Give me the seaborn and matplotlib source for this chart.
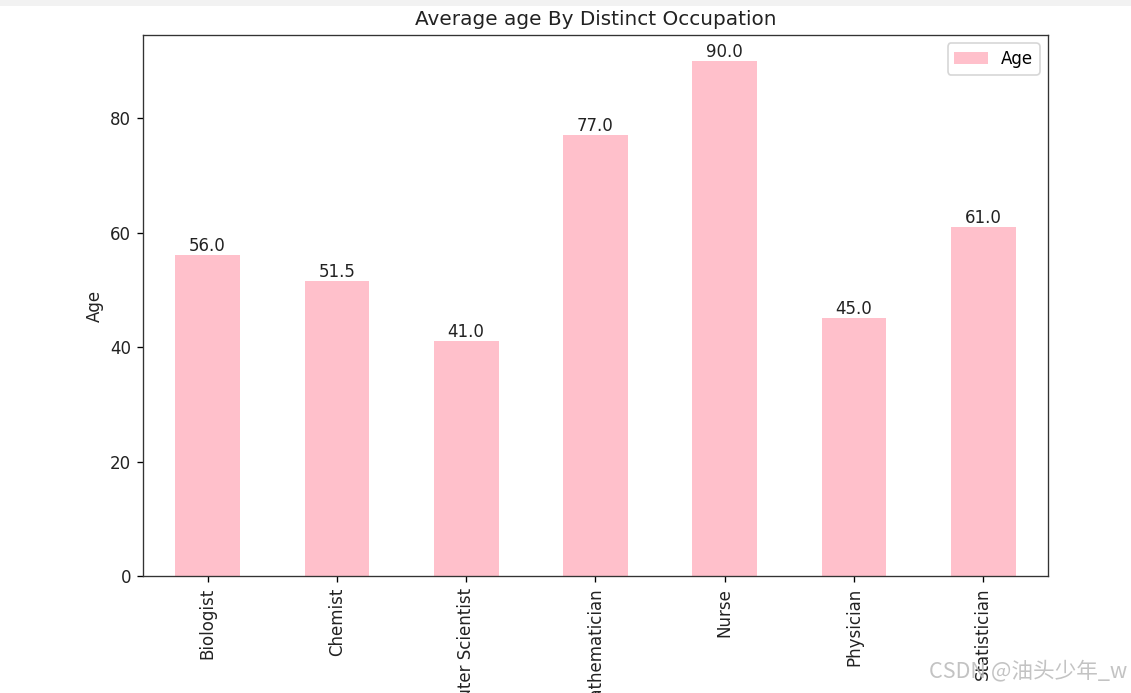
import matplotlib
matplotlib.use('Agg')
import matplotlib.pyplot as plt
import seaborn as sns
from matplotlib.patches import Rectangle

# data
occupations = ['Biologist', 'Chemist', 'Computer Scientist', 'Mathematician',
               'Nurse', 'Physician', 'Statistician']
ages = [56.0, 51.5, 41.0, 77.0, 90.0, 45.0, 61.0]

# the screenshot is a bit enlarged, so render at 120 dpi
DPI = 120
fig = plt.figure(figsize=(1131 / DPI, 693 / DPI), dpi=DPI)
ax = fig.add_axes([0.1264, 0.1688, 0.8002, 0.7807])

sns.barplot(x=occupations, y=ages, color='pink', saturation=1, width=0.5,
            linewidth=0, label='Age', ax=ax)
ax.bar_label(ax.containers[0], fmt='%.1f', fontsize=10, color='#222222')

ax.set_xlim(-0.5, len(occupations) - 0.5)
ax.set_ylim(0, max(ages) * 1.05)
ax.set_title('Average age By Distinct Occupation', fontsize=12, color='#222222')
ax.set_ylabel('Age', fontsize=10, color='#222222')
ax.set_xlabel('')
ax.tick_params(axis='x', labelrotation=90, labelsize=10, labelcolor='#222222')
ax.tick_params(axis='y', labelsize=10, labelcolor='#222222')
for s in ax.spines.values():
    s.set_edgecolor('#333333')
ax.legend(loc='upper right', fontsize=10)

# light strip at the top of the screenshot
fig.patches.append(Rectangle((0, 0.992), 1, 0.008, transform=fig.transFigure,
                             facecolor='#f2f2f2', edgecolor='none'))

# watermark
fig.text(0.997, 0.016, 'CSDN @油头少年_w', ha='right', va='bottom', fontsize=13,
         color='#bdbdbd', alpha=0.9, family=['Noto Sans CJK SC', 'DejaVu Sans'])

fig.savefig('out.png', dpi=DPI)
